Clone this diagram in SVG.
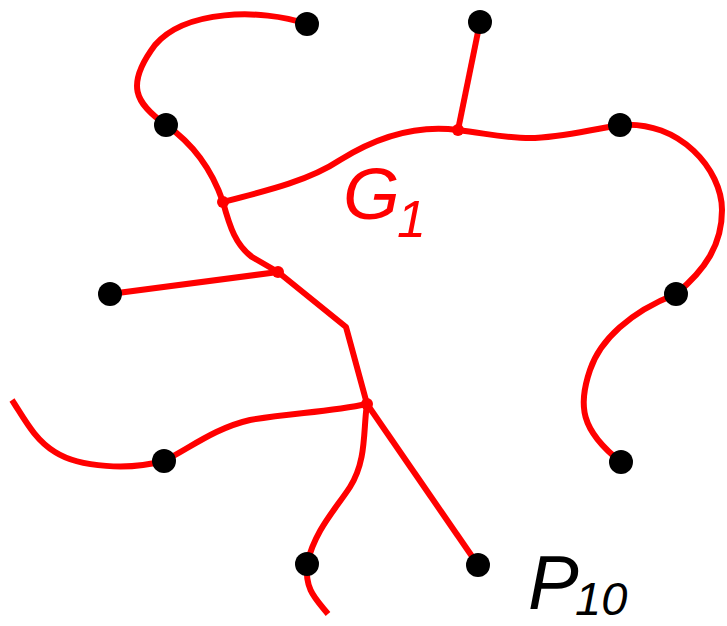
<svg xmlns="http://www.w3.org/2000/svg" width="727" height="626" viewBox="0 0 727 626">
<style>
.e{fill:none;stroke:#ff0000;stroke-width:6;stroke-linejoin:round}
.n{fill:#000}
.j{fill:#ff0000}
.t{font-family:"Liberation Sans",Arial,sans-serif;font-style:italic}
</style>
<rect width="727" height="626" fill="#fff"/>
<g id="connectors">
<path class="e" d="M307,24 C260,8 185,10 155,45 C125,85 135,103 166,125"/>
<path class="e" d="M166,125 C195,145 212,170 223,202"/>
<path class="e" d="M223,202 C230,228 236,245 252,257 L278,272"/>
<path class="e" d="M278,272 L346,327 L367,404"/>
<path class="e" d="M110,294 L278,272"/>
<path class="e" d="M223,202 C270,190 310,180 340,160 C380,135 420,125 458,130"/>
<path class="e" d="M458,130 L480,22"/>
<path class="e" d="M458,130 C490,134 510,139 535,138 C570,136 600,128 620,125"/>
<path class="e" d="M620,125 C680,120 722,170 722,210 C722,245 705,270 676,294"/>
<path class="e" d="M676,294 C630,312 600,340 590,370 C578,405 580,430 621,462"/>
<path class="e" d="M367,404 C330,412 290,413 250,420 C215,428 190,448 164,461"/>
<path class="e" d="M164,461 C130,470 80,468 55,452 C35,440 25,420 12,400"/>
<path class="e" d="M367,404 C363,430 367,460 350,487 C335,510 315,530 307,564"/>
<path class="e" d="M307,564 C305,590 315,598 328,614"/>
<path class="e" d="M367,404 L478,565"/>
</g>
<g id="junctions">
<circle class="j" cx="223" cy="202" r="6"/>
<circle class="j" cx="458" cy="130" r="6"/>
<circle class="j" cx="278" cy="272" r="6"/>
<circle class="j" cx="367" cy="404" r="6"/>
</g>
<g id="n1"><circle class="n" cx="307" cy="24" r="12"/></g>
<g id="n2"><circle class="n" cx="166" cy="125" r="12"/></g>
<g id="n3"><circle class="n" cx="480" cy="22" r="12"/></g>
<g id="n4"><circle class="n" cx="620" cy="125" r="12"/></g>
<g id="n5"><circle class="n" cx="676" cy="294" r="12"/></g>
<g id="n6"><circle class="n" cx="110" cy="294" r="12"/></g>
<g id="n7"><circle class="n" cx="164" cy="461" r="12"/></g>
<g id="n8"><circle class="n" cx="621" cy="462" r="12"/></g>
<g id="n9"><circle class="n" cx="307" cy="564" r="12"/></g>
<g id="n10"><circle class="n" cx="478" cy="565" r="12"/></g>
<g id="label-G1" fill="#ff0000">
<text class="t" x="343" y="219" font-size="73">G</text>
<text class="t" x="397" y="237" font-size="52">1</text>
</g>
<g id="label-P10" fill="#000">
<text class="t" x="528" y="609" font-size="76">P</text>
<text class="t" x="575" y="615" font-size="47">10</text>
</g>
</svg>
